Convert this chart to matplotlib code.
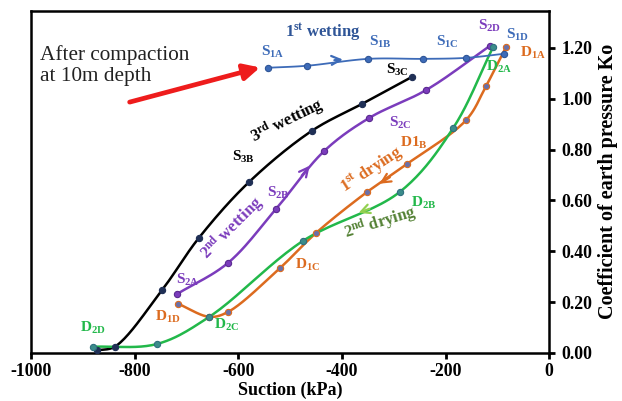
import numpy as np
import matplotlib
matplotlib.use("Agg")
import matplotlib.pyplot as plt

plt.rcParams['font.family'] = ['Liberation Serif', 'DejaVu Serif']
plt.rcParams['font.weight'] = 'bold'
plt.rcParams['mathtext.default'] = 'regular'

# --- data (suction kPa, Ko) ---
w1_suction = [-542, -467, -349, -243, -160, -87]
w1_ko = [1.122, 1.130, 1.157, 1.157, 1.161, 1.177]

w2_suction = [-718, -620, -527, -434, -347, -237, -114]
w2_ko = [0.232, 0.354, 0.567, 0.795, 0.925, 1.035, 1.209]

w3_suction = [-872, -838, -747, -676, -579, -458, -361, -264]
w3_ko = [0.010, 0.025, 0.248, 0.453, 0.673, 0.874, 0.980, 1.087]

d1_suction = [-83, -122, -160, -274, -351, -450, -519, -620, -656, -716]
d1_ko = [1.205, 1.050, 0.917, 0.744, 0.634, 0.472, 0.335, 0.161, 0.142, 0.193]

d2_suction = [-108, -185, -288, -475, -656, -757, -880]
d2_ko = [1.205, 0.886, 0.634, 0.441, 0.142, 0.035, 0.024]

x_ticks = [-1000, -800, -600, -400, -200, 0]
y_ticks = [0.0, 0.2, 0.4, 0.6, 0.8, 1.0, 1.2]

# pixel scale per unit, so the smoothing works in screen-like space
SX, SY = 0.518, 254.0


def smooth(xs, ys, n=24):
    # centripetal Catmull-Rom through the points (like a spreadsheet "smoothed line")
    P = np.column_stack([np.asarray(xs, float) * SX, np.asarray(ys, float) * SY])
    P = np.vstack([2 * P[0] - P[1], P, 2 * P[-1] - P[-2]])
    out = []
    for i in range(1, len(P) - 2):
        p0, p1, p2, p3 = P[i - 1], P[i], P[i + 1], P[i + 2]
        t0 = 0.0
        t1 = t0 + np.linalg.norm(p1 - p0) ** 0.5
        t2 = t1 + np.linalg.norm(p2 - p1) ** 0.5
        t3 = t2 + np.linalg.norm(p3 - p2) ** 0.5
        t = np.linspace(t1, t2, n)[:, None]
        a1 = (t1 - t) / (t1 - t0) * p0 + (t - t0) / (t1 - t0) * p1
        a2 = (t2 - t) / (t2 - t1) * p1 + (t - t1) / (t2 - t1) * p2
        a3 = (t3 - t) / (t3 - t2) * p2 + (t - t2) / (t3 - t2) * p3
        b1 = (t2 - t) / (t2 - t0) * a1 + (t - t0) / (t2 - t0) * a2
        b2 = (t3 - t) / (t3 - t1) * a2 + (t - t1) / (t3 - t1) * a3
        c = (t2 - t) / (t2 - t1) * b1 + (t - t1) / (t2 - t1) * b2
        out.append(c)
    c = np.vstack(out)
    return c[:, 0] / SX, c[:, 1] / SY


fig = plt.figure(figsize=(6.22, 4.01), dpi=100)
ax = fig.add_axes([0.050, 0.120, 0.833, 0.853])

blue = '#3d6bb8'
purple = '#7b3cbc'
orange = '#dc6b1f'
green = '#22b84a'

series = [
    (w3_suction, w3_ko, 'black', 1.8, '#1f2f55', '#1f2f55'),
    (w2_suction, w2_ko, purple, 1.8, purple, '#5a2a90'),
    (d1_suction, d1_ko, orange, 1.8, '#6a70a8', orange),
    (d2_suction, d2_ko, green, 1.8, '#3b8c8a', '#2f6f7f'),
    (w1_suction, w1_ko, blue, 1.3, blue, '#2f5597'),
]
for xs, ys, col, lw, fc, ec in series:
    sx, sy = smooth(xs, ys)
    ax.plot(sx, sy, color=col, lw=lw, zorder=2)
    ax.plot(xs, ys, 'o', ms=4.5, mfc=fc, mec=ec, mew=0.8, zorder=3)

# direction arrows on the curves
arrows = [
    ((-420, 1.151), (-393, 1.155), blue),
    ((-481, 0.689), (-459, 0.745), purple),
    ((-303, 0.697), (-332, 0.660), orange),
    ((-342, 0.571), (-373, 0.547), '#92d050'),
]
for start, end, col in arrows:
    ax.annotate('', xy=end, xytext=start,
                arrowprops=dict(arrowstyle='->', color=col, lw=1.6, mutation_scale=16))

# red compaction arrow
ax.annotate('', xy=(-553, 1.126), xytext=(-815, 0.984),
            arrowprops=dict(arrowstyle='-|>', color='#ee1c1c', lw=3.4, mutation_scale=24))
ax.text(-983, 1.132, 'After compaction\nat 10m depth', fontsize=15.3, fontweight='normal',
        color='#222222', ha='left', va='center', linespacing=1.15)

lab = dict(fontsize=11, ha='center', va='center')
labels = [
    ('$S_{1A}$', -534, 1.185, blue), ('$S_{1B}$', -326, 1.224, blue),
    ('$S_{1C}$', -197, 1.224, blue), ('$S_{1D}$', -62, 1.252, blue),
    ('$S_{2A}$', -697, 0.287, purple), ('$S_{2B}$', -523, 0.630, purple),
    ('$S_{2C}$', -288, 0.905, purple), ('$S_{2D}$', -116, 1.287, purple),
    ('$S_{3B}$', -591, 0.772, 'black'), ('$S_{3C}$', -293, 1.114, 'black'),
    ('$D_{1A}$', -31, 1.180, orange), ('$D1_{B}$', -262, 0.827, orange),
    ('$D_{1C}$', -467, 0.346, orange), ('$D_{1D}$', -737, 0.142, orange),
    ('$D_{2A}$', -97, 1.126, green), ('$D_{2B}$', -243, 0.590, green),
    ('$D_{2C}$', -622, 0.110, green), ('$D_{2D}$', -880, 0.098, green),
]
for txt, x, y, col in labels:
    ax.text(x, y, txt, color=col, **lab)

curve_names = [
    ('$1^{st}$ wetting', -436, 1.262, '#2f5597', 0),
    ('$2^{nd}$ wetting', -612, 0.488, purple, 45),
    ('$3^{rd}$ wetting', -506, 0.913, 'black', 26),
    ('$1^{st}$ drying', -342, 0.720, orange, 33),
    ('$2^{nd}$ drying', -326, 0.510, '#548235', 17),
]
for txt, x, y, col, rot in curve_names:
    ax.text(x, y, txt, color=col, fontsize=12, rotation=rot,
            ha='center', va='center', rotation_mode='anchor')

ax.set_xlim(-1000, 0)
ax.set_ylim(0, 1.346)
ax.set_xticks(x_ticks)
ax.set_xticklabels([str(v) for v in x_ticks])
ax.set_yticks(y_ticks)
ax.set_yticklabels(['%.2f' % v for v in y_ticks])
ax.yaxis.tick_right()
ax.yaxis.set_label_position('right')
ax.tick_params(axis='both', direction='out', length=4, width=2, labelsize=12.8)
ax.tick_params(axis='y', pad=5)
for sp in ax.spines.values():
    sp.set_linewidth(1.8)
ax.set_xlabel('Suction (kPa)', fontsize=13, fontweight='bold', labelpad=1)
ax.set_ylabel('Coefficient of earth pressure Ko', fontsize=14.5, fontweight='bold', labelpad=4)

fig.savefig('out.png', dpi=100)
